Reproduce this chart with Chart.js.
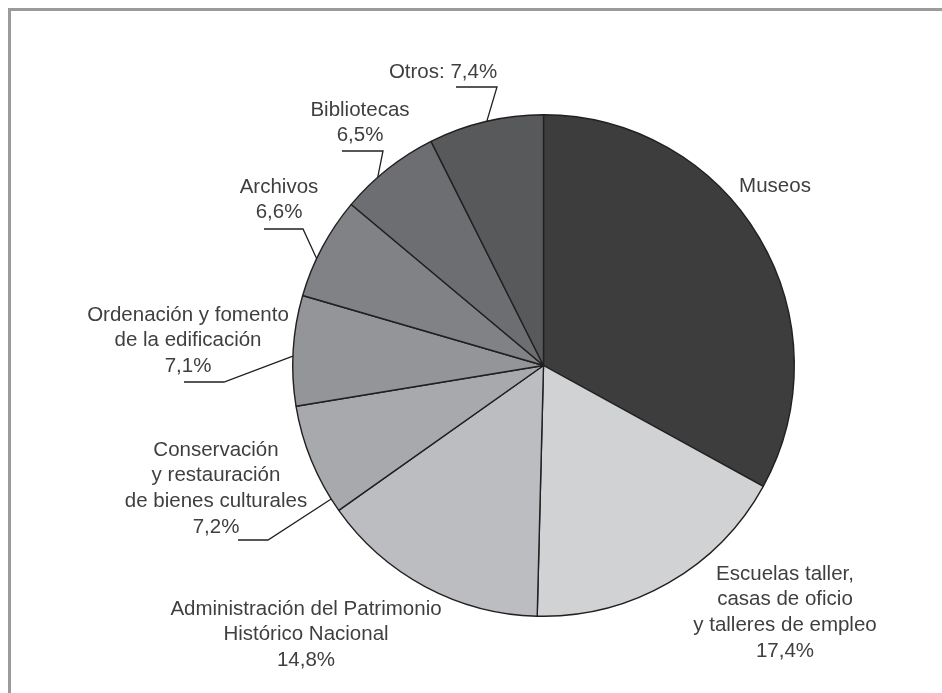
<!DOCTYPE html>
<html>
<head>
<meta charset="utf-8">
<script src="https://cdn.jsdelivr.net/npm/chart.js@4"></script>
<style>
html,body{margin:0;padding:0;background:#fff;}
#wrap{position:relative;width:942px;height:693px;}
#frame{position:absolute;left:8px;top:8px;right:0;bottom:0;border-top:3px solid #9b9b9b;border-left:3px solid #9b9b9b;pointer-events:none;}
canvas{position:absolute;left:0;top:0;}
</style>
</head>
<body>
<div id="wrap"><canvas id="c" width="942" height="693"></canvas><div id="frame"></div></div>
<script>
// ---- data ----
const categories = ["Museos","Escuelas taller, casas de oficio y talleres de empleo","Administración del Patrimonio Histórico Nacional","Conservación y restauración de bienes culturales","Ordenación y fomento de la edificación","Archivos","Bibliotecas","Otros"];
const values = [33.0, 17.4, 14.8, 7.2, 7.1, 6.6, 6.5, 7.4];
const labelLines = [
  ["Museos"],
  ["Escuelas taller,","casas de oficio","y talleres de empleo","17,4%"],
  ["Administración del Patrimonio","Histórico Nacional","14,8%"],
  ["Conservación","y restauración","de bienes culturales","7,2%"],
  ["Ordenación y fomento","de la edificación","7,1%"],
  ["Archivos","6,6%"],
  ["Bibliotecas","6,5%"],
  ["Otros: 7,4%"]
];
const sliceColors = ["#3d3d3e","#d1d2d4","#bcbdc0","#a7a9ac","#939598","#808285","#6d6e71","#58595b"];

// ---- label layout (positions only) ----
const layout = [
  {x:775, y:186},
  {x:785, y:574},
  {x:306, y:609},
  {x:216, y:450, leader:{frac:0.12, elbow:[268,540], end:[238,540]}},
  {x:188, y:315, leader:{frac:0.45, elbow:[224,382], end:[184,382]}},
  {x:279, y:187, leader:{frac:0.38, elbow:[303,229], end:[264,229]}},
  {x:360, y:110, leader:{frac:0.37, elbow:[383,151], end:[342,151]}},
  {x:443, y:72,  leader:{frac:0.51, elbow:[497,87], end:[456,87]}}
];

const labelPlugin = {
  id:'pieLabels',
  afterDatasetsDraw(chart){
    const ctx = chart.ctx;
    const meta = chart.getDatasetMeta(0);
    ctx.save();
    meta.data.forEach((arc,i)=>{
      const L = layout[i];
      const p = arc.getProps(['x','y','startAngle','endAngle','outerRadius'], true);
      if (L.leader){
        const a = p.startAngle + (p.endAngle - p.startAngle)*L.leader.frac;
        const ax = p.x + Math.cos(a)*p.outerRadius;
        const ay = p.y + Math.sin(a)*p.outerRadius;
        ctx.beginPath();
        ctx.moveTo(ax, ay);
        ctx.lineTo(L.leader.elbow[0], L.leader.elbow[1]);
        ctx.lineTo(L.leader.end[0], L.leader.end[1]);
        ctx.strokeStyle = '#231f20';
        ctx.lineWidth = 1.3;
        ctx.stroke();
      }
      ctx.fillStyle = '#3f3f3f';
      ctx.font = '20.5px "Liberation Sans", Arial, sans-serif';
      ctx.textAlign = 'center';
      ctx.textBaseline = 'middle';
      labelLines[i].forEach((t,k)=>{
        ctx.fillText(t, L.x, L.y + k*25.8);
      });
    });
    ctx.restore();
  }
};

new Chart(document.getElementById('c'), {
  type:'pie',
  data:{
    labels: categories,
    datasets:[{
      data: values,
      backgroundColor: sliceColors,
      borderColor:'#231f20',
      borderWidth:1.4
    }]
  },
  options:{
    responsive:false,
    animation:false,
    layout:{padding:{left:292, right:147, top:114, bottom:76}},
    plugins:{legend:{display:false}, tooltip:{enabled:false}}
  },
  plugins:[labelPlugin]
});
</script>
</body>
</html>
